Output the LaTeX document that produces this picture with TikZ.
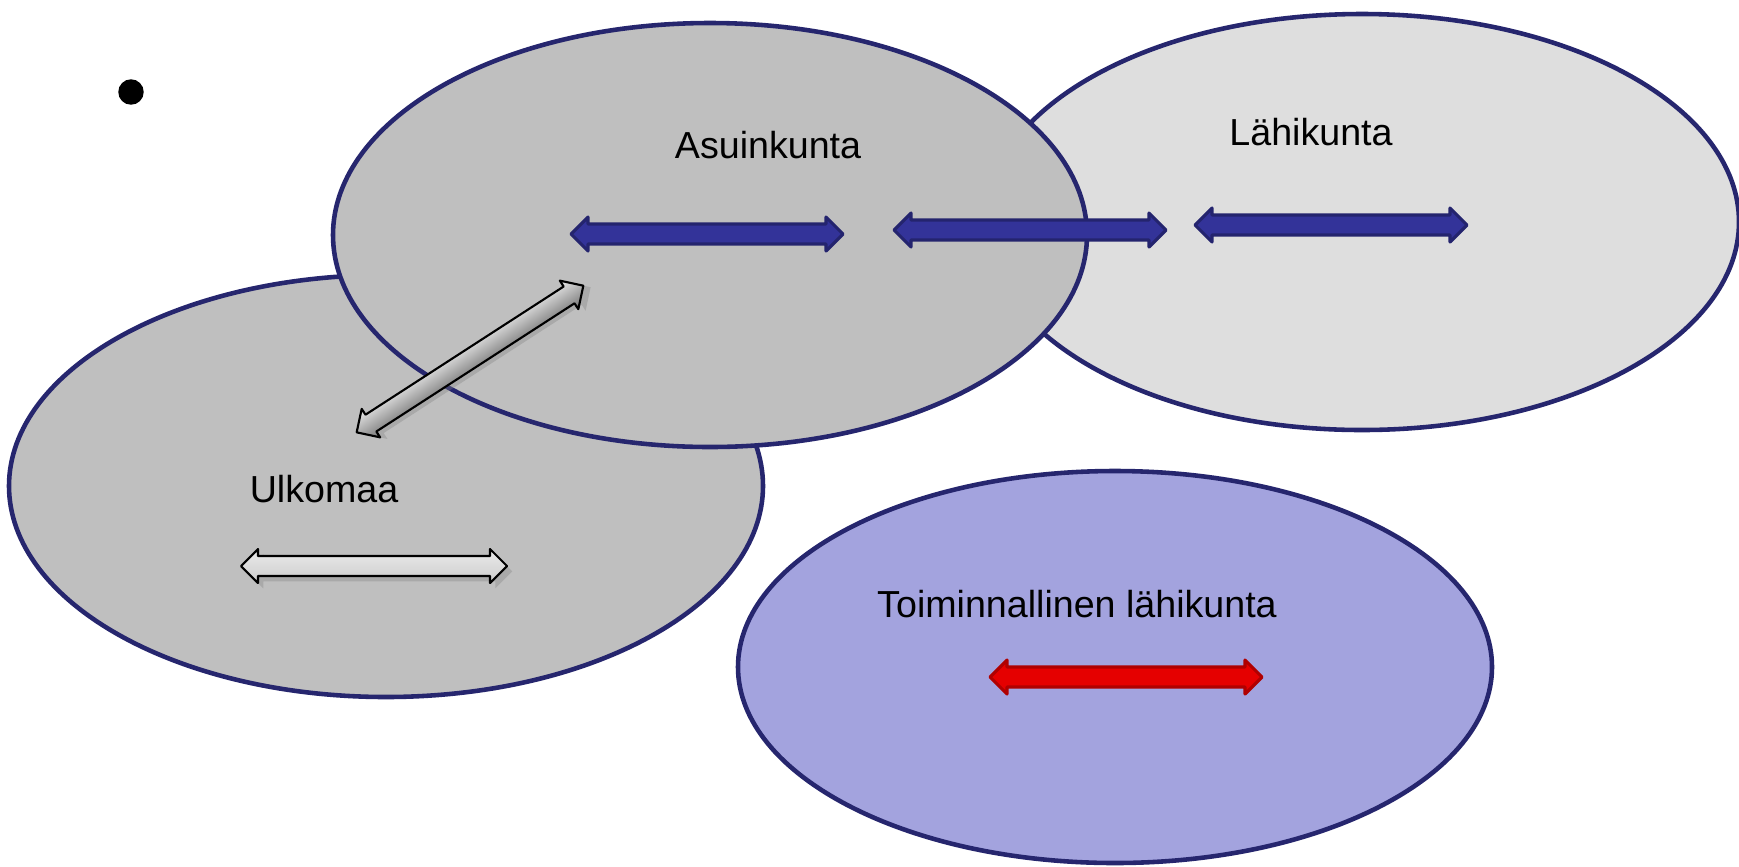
\documentclass[tikz,border=0pt]{standalone}
\usepackage{fontspec}
\setmainfont{Liberation Sans}
\usetikzlibrary{calc}
\usetikzlibrary{shadows}

\newcommand{\dblarr}[5]{%
\begin{scope}[transform canvas={shift={(#1,#2)},rotate=#3}]
\draw[#5] (-#4,0) -- ++(17,17) -- ++(0,-7) -- (#4-17,10) -- ++(0,7) -- (#4,0) -- ++(-17,-17) -- ++(0,7) -- (-#4+17,-10) -- ++(0,-7) -- cycle;
\end{scope}}

\begin{document}
\begin{tikzpicture}[line cap=round,line join=round,x=0.01cm,y=-0.01cm]
\definecolor{ttttzz}{rgb}{0.15,0.15,0.43}
\definecolor{bfbfbf}{rgb}{0.75,0.75,0.75}
\definecolor{dddddd}{rgb}{0.87,0.87,0.87}
\definecolor{aaaadd}{rgb}{0.64,0.64,0.87}
\definecolor{qqqqaa}{rgb}{0.2,0.2,0.6}
\definecolor{qqqq77}{rgb}{0.14,0.14,0.43}
\definecolor{eeqqqq}{rgb}{0.9,0.,0.}
\definecolor{bbqqqq}{rgb}{0.69,0.,0.}
\useasboundingbox (0,0) rectangle (1739,866);
\fill[white] (0,0) rectangle (1739,866);
\draw [fill=black] (131,92) circle (12);
\draw [line width=1.3pt,color=ttttzz,fill=dddddd] (1362,222) ellipse (377 and 208);
\draw [line width=1.3pt,color=ttttzz,fill=bfbfbf] (386,486) ellipse (377 and 211);
\draw [line width=1.3pt,color=ttttzz,fill=bfbfbf] (710,235) ellipse (377 and 212);
\draw [line width=1.3pt,color=ttttzz,fill=aaaadd] (1115,667) ellipse (377 and 196);
\begin{scope}[font=\fontsize{10.7}{13}\selectfont]
\node (asuin) at (768,145) {Asuinkunta};
\node (lahi) at (1311,132) {Lähikunta};
\node (ulko) at (324,489) {Ulkomaa};
\node (toim) at (1077,604) {Toiminnallinen lähikunta};
\end{scope}
\dblarr{707}{234}{0}{136}{line width=0.9pt,draw=qqqq77,fill=qqqqaa}
\dblarr{1030}{230}{0}{136}{line width=0.9pt,draw=qqqq77,fill=qqqqaa}
\dblarr{1331}{225}{0}{136}{line width=0.9pt,draw=qqqq77,fill=qqqqaa}
\dblarr{1126}{677}{0}{136}{line width=0.9pt,draw=bbqqqq,fill=eeqqqq}
\dblarr{374}{566}{0}{133}{line width=0.6pt,draw=black,top color=white!92!black,bottom color=white!80!black,drop shadow={opacity=0.35,shadow xshift=1.5pt,shadow yshift=-1.5pt}}
\dblarr{470}{359}{32.9}{135}{line width=0.6pt,draw=black,top color=white!92!black,bottom color=white!45!black,drop shadow={opacity=0.35,shadow xshift=1.5pt,shadow yshift=-1.5pt}}
\end{tikzpicture}
\end{document}
